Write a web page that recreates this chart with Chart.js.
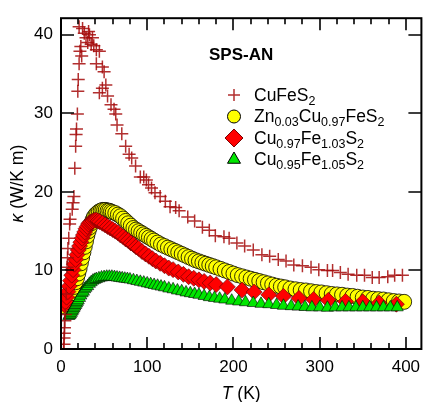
<!DOCTYPE html>
<html>
<head>
<meta charset="utf-8">
<script src="https://cdn.jsdelivr.net/npm/chart.js@4.4.1/dist/chart.umd.min.js"></script>
<style>
  html, body { margin: 0; padding: 0; background: #fff; }
</style>
</head>
<body>
<canvas id="kappaChart" width="430" height="402"></canvas>
<script>
// thermal conductivity vs temperature, SPS-AN samples
const cufes2T = [3, 3.5, 3.5, 4, 4, 4.5, 5, 6, 7, 7.5,
  8, 9, 10, 10.5, 13, 14, 15, 16, 17, 17.5,
  18, 19, 19.5, 20, 21, 22, 21, 23, 24, 25,
  27, 29, 31, 32, 33, 35, 36.5, 38, 41, 44.5,
  41, 48, 50, 44.5, 48, 52, 54, 58, 61.5, 63.5,
  65, 70.5, 75, 79, 82, 86.5, 92, 96, 99, 101.5,
  105, 109, 115, 121, 126.5, 133, 137, 147, 155, 164,
  172, 179, 189, 195, 204, 213, 223, 233, 242, 252,
  261, 270, 280, 290, 299, 309, 315, 324, 333, 343,
  352, 361, 369, 379, 387, 396];
const cufes2K = [0.0, 0.6, 1.4, 2.0, 2.7, 3.6, 4.4, 7.0, 10.4, 11.6,
  12.8, 14.1, 15.9, 16.5, 17.8, 18.6, 19.4, 23.0, 25.8, 27.3,
  28.0, 29.9, 32.8, 34.3, 36.3, 37.9, 41.0, 38.5, 37.3, 40.8,
  40.2, 39.6, 39.0, 40.4, 40.0, 38.8, 39.6, 38.6, 38.1, 37.9,
  36.3, 35.9, 35.3, 32.6, 33.2, 33.6, 32.2, 31.1, 30.5, 29.9,
  28.5, 27.4, 25.8, 24.8, 24.3, 23.3, 21.9, 21.9, 21.5, 20.9,
  20.5, 19.9, 19.4, 18.8, 18.1, 18.0, 17.6, 16.8, 16.3, 15.5,
  15.1, 14.4, 14.3, 14.1, 13.5, 13.1, 12.6, 12.0, 11.8, 11.4,
  11.2, 10.7, 10.6, 10.4, 10.1, 10.0, 10.0, 9.75, 9.5, 9.4,
  9.4, 9.1, 9.1, 9.2, 9.4, 9.4];

const znT = [5, 6.5, 8, 9.5, 11, 12.5, 14, 15.5, 17, 18.5,
  20, 21.5, 23, 24.5, 26, 27.5, 29, 30.5, 32, 33.5,
  35, 36.5, 38, 40, 42, 44, 46, 48, 50, 52,
  54, 56, 58, 60, 63, 66, 69, 72, 75, 78,
  81, 84, 87, 90, 93, 96, 99, 102, 105, 108,
  112, 116, 120, 124, 128, 132, 136, 140, 144, 148,
  152, 156, 160, 164, 168, 172, 176, 180, 185, 190,
  195, 200, 205, 210, 215, 220, 225, 230, 235, 240,
  245, 250, 255, 260, 266, 272, 278, 284, 290, 296,
  302, 308, 314, 320, 326, 332, 338, 344, 350, 356,
  362, 368, 374, 380, 386, 392, 398];
const znK = [5.4, 5.7, 6.0, 6.3, 6.7, 7.1, 7.5, 7.9, 8.5, 9.0,
  9.6, 10.2, 10.9, 11.6, 12.3, 13.0, 13.7, 14.4, 15.0, 15.5,
  16.0, 16.4, 16.8, 17.1, 17.3, 17.5, 17.6, 17.7, 17.7, 17.7,
  17.6, 17.6, 17.5, 17.4, 17.3, 17.1, 16.9, 16.6, 16.3, 16.0,
  15.7, 15.4, 15.2, 15.0, 14.8, 14.6, 14.4, 14.2, 14.0, 13.8,
  13.55, 13.3, 13.1, 12.9, 12.7, 12.5, 12.3, 12.1, 11.9, 11.7,
  11.5, 11.3, 11.15, 11.0, 10.85, 10.7, 10.55, 10.4, 10.2, 10.0,
  9.8, 9.6, 9.4, 9.25, 9.1, 8.95, 8.8, 8.65, 8.5, 8.35,
  8.2, 8.05, 7.95, 7.85, 7.7, 7.6, 7.5, 7.45, 7.35, 7.25,
  7.2, 7.1, 7.0, 6.95, 6.9, 6.8, 6.75, 6.65, 6.55, 6.5,
  6.4, 6.35, 6.3, 6.2, 6.1, 6.05, 6.0];

const cu97T = [4, 5, 6.5, 8, 9.5, 11, 12.5, 14, 15.5, 17,
  18.5, 20, 21.5, 23, 24.5, 26, 27.5, 29, 30.5, 32,
  33.5, 35, 37, 39, 41, 43, 45, 48, 51, 54,
  57, 60, 63, 66, 69, 72, 75, 78, 81, 84,
  87, 90, 94, 98, 102, 106, 110, 115, 120, 125,
  130, 136, 142, 148, 154, 160, 166, 173, 180, 193,
  210, 224, 241, 258, 276, 293, 310, 330, 350, 369,
  389];
const cu97K = [5.6, 6.0, 6.6, 7.3, 8.0, 8.7, 9.4, 10.1, 10.8, 11.4,
  12.0, 12.6, 13.1, 13.6, 14.1, 14.5, 14.9, 15.3, 15.6, 15.9,
  16.1, 16.2, 16.3, 16.4, 16.4, 16.3, 16.2, 16.0, 15.8, 15.6,
  15.4, 15.2, 15.0, 14.8, 14.5, 14.3, 14.0, 13.8, 13.5, 13.3,
  13.0, 12.8, 12.4, 12.1, 11.8, 11.5, 11.2, 10.9, 10.6, 10.3,
  10.1, 9.8, 9.5, 9.2, 9.0, 8.8, 8.6, 8.4, 8.2, 7.9,
  7.5, 7.25, 6.9, 6.7, 6.45, 6.3, 6.2, 6.05, 6.0, 5.85,
  5.7];

const cu95T = [9, 10, 11, 12, 13, 14, 15, 16, 17, 18,
  19, 20, 21.5, 23, 24.5, 26, 27.5, 29, 31, 33,
  35, 37, 39, 41, 44, 47, 50, 53, 56, 59,
  62, 65, 68, 71, 74, 77, 80, 84, 88, 92,
  96, 100, 104, 108, 112, 116, 120, 125, 130, 135,
  140, 145, 150, 155, 160, 166, 172, 178, 184, 190,
  198, 206, 214, 223, 232, 241, 250, 258, 267, 275,
  283, 291, 300, 309, 318, 326, 334, 342, 350, 358,
  366, 374, 382, 390];
const cu95K = [4.2, 4.3, 4.4, 4.6, 4.8, 5.0, 5.2, 5.4, 5.6, 5.8,
  6.0, 6.2, 6.5, 6.8, 7.1, 7.3, 7.6, 7.8, 8.0, 8.3,
  8.5, 8.7, 8.8, 8.9, 9.0, 9.1, 9.15, 9.2, 9.2, 9.2,
  9.15, 9.1, 9.05, 9.0, 8.95, 8.9, 8.85, 8.75, 8.65, 8.55,
  8.45, 8.35, 8.25, 8.15, 8.05, 7.95, 7.85, 7.7, 7.6, 7.45,
  7.35, 7.2, 7.1, 7.0, 6.9, 6.75, 6.6, 6.5, 6.4, 6.3,
  6.15, 6.05, 5.95, 5.85, 5.75, 5.7, 5.6, 5.5, 5.45, 5.4,
  5.35, 5.3, 5.3, 5.25, 5.3, 5.3, 5.3, 5.3, 5.3, 5.3,
  5.3, 5.3, 5.3, 5.3];

const xTicks = [0, 100, 200, 300, 400];
const yTicks = [0, 10, 20, 30, 40];

const seriesLabels = [
  [["CuFeS", 0], ["2", 1]],
  [["Zn", 0], ["0.03", 1], ["Cu", 0], ["0.97", 1], ["FeS", 0], ["2", 1]],
  [["Cu", 0], ["0.97", 1], ["Fe", 0], ["1.03", 1], ["S", 0], ["2", 1]],
  [["Cu", 0], ["0.95", 1], ["Fe", 0], ["1.05", 1], ["S", 0], ["2", 1]],
];
const panelTitle = "SPS-AN";

const FONT = '"Liberation Sans", Arial, sans-serif';
const crossColor = "rgba(165, 10, 10, 0.85)";

const pts = (xs, ys) => xs.map((x, i) => ({ x: x, y: ys[i] }));

const markers = [
  { style: "cross", fill: crossColor, stroke: crossColor, r: 6 },
  { style: "circle", fill: "#ffff00", stroke: "#000", r: 6.5 },
  { style: "diamond", fill: "#ff0000", stroke: "#7a0000", r: 9 },
  { style: "triangle", fill: "#00e600", stroke: "#000", r: 7.5 },
];

const drawMarker = (ctx, m, x, y) => {
  ctx.save();
  ctx.fillStyle = m.fill;
  ctx.strokeStyle = m.stroke;
  ctx.lineWidth = 1;
  ctx.beginPath();
  if (m.style === "cross") {
    ctx.lineWidth = 1.5;
    ctx.moveTo(x - m.r, y); ctx.lineTo(x + m.r, y);
    ctx.moveTo(x, y - m.r); ctx.lineTo(x, y + m.r);
    ctx.stroke();
  } else {
    if (m.style === "circle") {
      ctx.arc(x, y, m.r, 0, Math.PI * 2);
    } else if (m.style === "diamond") {
      ctx.moveTo(x, y - m.r); ctx.lineTo(x + m.r, y);
      ctx.lineTo(x, y + m.r); ctx.lineTo(x - m.r, y);
    } else {
      ctx.moveTo(x, y - m.r);
      ctx.lineTo(x + m.r * 0.866, y + m.r * 0.5);
      ctx.lineTo(x - m.r * 0.866, y + m.r * 0.5);
    }
    ctx.closePath();
    ctx.fill();
    ctx.stroke();
  }
  ctx.restore();
};

const drawFormula = (ctx, parts, x, y) => {
  parts.forEach(([txt, sub]) => {
    ctx.font = sub ? `12.5px ${FONT}` : `17.5px ${FONT}`;
    ctx.fillText(txt, x, sub ? y + 4 : y);
    x += ctx.measureText(txt).width;
  });
};

const frameTicks = {
  id: "frameTicks",
  afterDatasetsDraw(chart) {
    const { ctx, chartArea: a, scales: { x, y } } = chart;
    ctx.save();
    ctx.strokeStyle = "#000";
    ctx.lineWidth = 2;
    ctx.strokeRect(a.left, a.top, a.right - a.left, a.bottom - a.top);
    ctx.lineWidth = 1.6;
    ctx.beginPath();
    for (let v = 0; v <= x.max; v += 20) {
      const px = Math.round(x.getPixelForValue(v));
      const len = v % 100 === 0 ? 12 : 6;
      ctx.moveTo(px, a.bottom); ctx.lineTo(px, a.bottom - len);
      ctx.moveTo(px, a.top); ctx.lineTo(px, a.top + len);
    }
    yTicks.forEach((v) => {
      const py = Math.round(y.getPixelForValue(v));
      ctx.moveTo(a.left, py); ctx.lineTo(a.left + 13, py);
      ctx.moveTo(a.right, py); ctx.lineTo(a.right - 13, py);
    });
    ctx.stroke();
    ctx.restore();
  },
  afterDraw(chart) {
    const { ctx, chartArea: a } = chart;
    ctx.save();
    ctx.fillStyle = "#000";
    ctx.textBaseline = "alphabetic";
    ctx.textAlign = "left";

    ctx.font = `bold 17px ${FONT}`;
    ctx.fillText(panelTitle, 209, 60);

    markers.forEach((m, i) => {
      const rowY = 95 + i * 21.5;
      drawMarker(ctx, m, 234, rowY);
      ctx.fillStyle = "#000";
      drawFormula(ctx, seriesLabels[i], 254, rowY + 5.5);
    });

    // x title: T (K)
    ctx.font = `italic 17.5px ${FONT}`;
    const wT = ctx.measureText("T").width;
    ctx.font = `17.5px ${FONT}`;
    const wK = ctx.measureText(" (K)").width;
    let sx = (a.left + a.right) / 2 - (wT + wK) / 2;
    ctx.font = `italic 17.5px ${FONT}`;
    ctx.fillText("T", sx, 399);
    ctx.font = `17.5px ${FONT}`;
    ctx.fillText(" (K)", sx + wT, 399);

    // y title: kappa (W/K m)
    ctx.translate(23, (a.top + a.bottom) / 2);
    ctx.rotate(-Math.PI / 2);
    ctx.font = `italic 17.5px ${FONT}`;
    const wk = ctx.measureText("\u03ba").width;
    ctx.font = `17.5px ${FONT}`;
    const wu = ctx.measureText(" (W/K m)").width;
    sx = -(wk + wu) / 2;
    ctx.font = `italic 17.5px ${FONT}`;
    ctx.fillText("\u03ba", sx, 0);
    ctx.font = `17.5px ${FONT}`;
    ctx.fillText(" (W/K m)", sx + wk, 0);
    ctx.restore();
  },
};

const tickFont = { family: FONT, size: 17 };

new Chart("kappaChart", {
  type: "scatter",
  data: {
    datasets: [
      {
        label: "CuFeS2",
        data: pts(cufes2T, cufes2K),
        pointStyle: "cross",
        pointRadius: 6.5,
        borderColor: crossColor,
        borderWidth: 1.5,
        order: 0,
      },
      {
        label: "Zn0.03Cu0.97FeS2",
        data: pts(znT, znK),
        pointStyle: "circle",
        pointRadius: 7.5,
        backgroundColor: "#ffff00",
        borderColor: "#000",
        borderWidth: 0.8,
        order: 3,
      },
      {
        label: "Cu0.97Fe1.03S2",
        data: pts(cu97T, cu97K),
        pointStyle: "rectRot",
        pointRadius: 8,
        backgroundColor: "#ff0000",
        borderColor: "#5a0000",
        borderWidth: 0.6,
        order: 2,
      },
      {
        label: "Cu0.95Fe1.05S2",
        data: pts(cu95T, cu95K),
        pointStyle: "triangle",
        pointRadius: 7,
        backgroundColor: "#00e600",
        borderColor: "#000",
        borderWidth: 0.6,
        order: 1,
      },
    ],
  },
  options: {
    responsive: false,
    animation: false,
    events: [],
    layout: { padding: { top: 8, right: 2, left: 0, bottom: 0 } },
    plugins: { legend: { display: false }, tooltip: { enabled: false } },
    scales: {
      x: {
        type: "linear",
        min: 0,
        max: 418,
        afterFit: (s) => { s.height = 53; },
        afterBuildTicks: (s) => { s.ticks = xTicks.map((v) => ({ value: v })); },
        grid: { display: false, drawTicks: false },
        border: { display: false },
        ticks: { font: tickFont, color: "#000", padding: 8, maxRotation: 0 },
      },
      y: {
        type: "linear",
        min: 0,
        max: 42.1,
        afterFit: (s) => { s.width = 61; },
        afterBuildTicks: (s) => { s.ticks = yTicks.map((v) => ({ value: v })); },
        grid: { display: false, drawTicks: false },
        border: { display: false },
        ticks: { font: tickFont, color: "#000", padding: 8 },
      },
    },
  },
  plugins: [frameTicks],
});
</script>
</body>
</html>
